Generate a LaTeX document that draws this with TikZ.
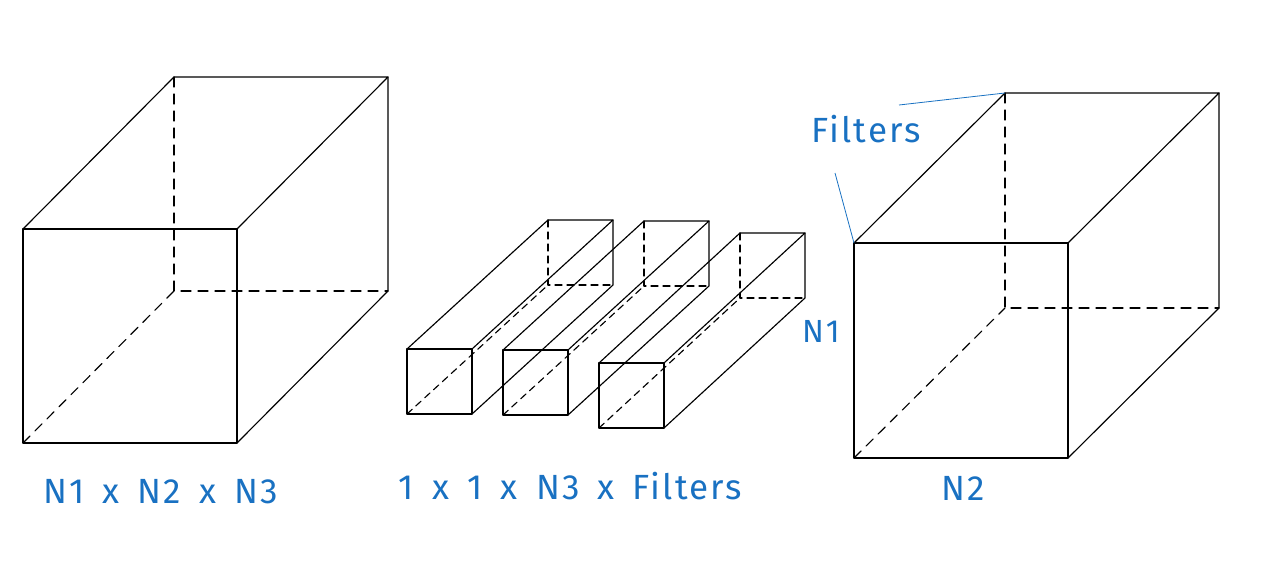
\documentclass[tikz,border=0pt]{standalone}
\usepackage{fontspec}
\newfontfamily\handfont[LetterSpace=6,WordSpace=1.6]{Fira Sans}
\definecolor{inkblue}{HTML}{1971C2}
\tikzset{
  edge/.style={line width=1.15pt, line cap=round, line join=round},
  hidden/.style={edge, dash pattern=on 10pt off 7pt},
  hiddensmall/.style={edge, dash pattern=on 7pt off 5pt},
  label/.style={text=inkblue, font=\handfont\fontsize{35}{40}\selectfont, inner sep=0pt, anchor=base},
  leader/.style={draw=inkblue, line width=0.8pt}
}
% #1 name, #2 x, #3 y (front top-left), #4 w, #5 h, #6 dx, #7 dy, #8 hidden style
\newcommand\mycuboid[8]{%
  \coordinate (#1ftl) at (#2,#3);
  \coordinate (#1ftr) at (#2+#4,#3);
  \coordinate (#1fbl) at (#2,#3+#5);
  \coordinate (#1fbr) at (#2+#4,#3+#5);
  \coordinate (#1btl) at (#2+#6,#3+#7);
  \coordinate (#1btr) at (#2+#4+#6,#3+#7);
  \coordinate (#1bbl) at (#2+#6,#3+#5+#7);
  \coordinate (#1bbr) at (#2+#4+#6,#3+#5+#7);
  \draw[#8] (#1fbl) -- (#1bbl);
  \draw[#8] (#1btl) -- (#1bbl) -- (#1bbr);
  \draw[edge] (#1ftl) rectangle (#1fbr);
  \draw[edge] (#1ftl) -- (#1btl) -- (#1btr) -- (#1ftr);
  \draw[edge] (#1btr) -- (#1bbr) -- (#1fbr);
}
\begin{document}
\begin{tikzpicture}[x=1pt,y=-1pt]
\useasboundingbox (0,0) rectangle (1279,564);
% left cube
\mycuboid{L}{23}{229}{214}{214}{151}{-152}{hidden}
% bars
\mycuboid{A}{407}{349}{65}{65}{141}{-129}{hiddensmall}
\mycuboid{B}{503}{350}{65}{65}{141}{-129}{hiddensmall}
\mycuboid{C}{599}{363}{65}{65}{141}{-130}{hiddensmall}
% right cube
\mycuboid{R}{854}{243}{214}{215}{151}{-150}{hidden}
% labels
\node[label] (lab1) at (160.5,503) {N1 x N2 x N3};
\node[label] (lab2) at (570.5,499) {1 x 1 x N3 x Filters};
\node[label] (lab3) at (963.5,500) {N2};
\node[label] (lab4) at (866,143) {Filters};
\node[label, font=\handfont\fontsize{32}{36}\selectfont] (lab5) at (821,342) {N1};
% leader lines
\coordinate (f1) at (899,105);
\coordinate (f2) at (835,173);
\draw[leader] (f1) -- (Rbtl);
\draw[leader] (f2) -- (Rftl);
\end{tikzpicture}
\end{document}
